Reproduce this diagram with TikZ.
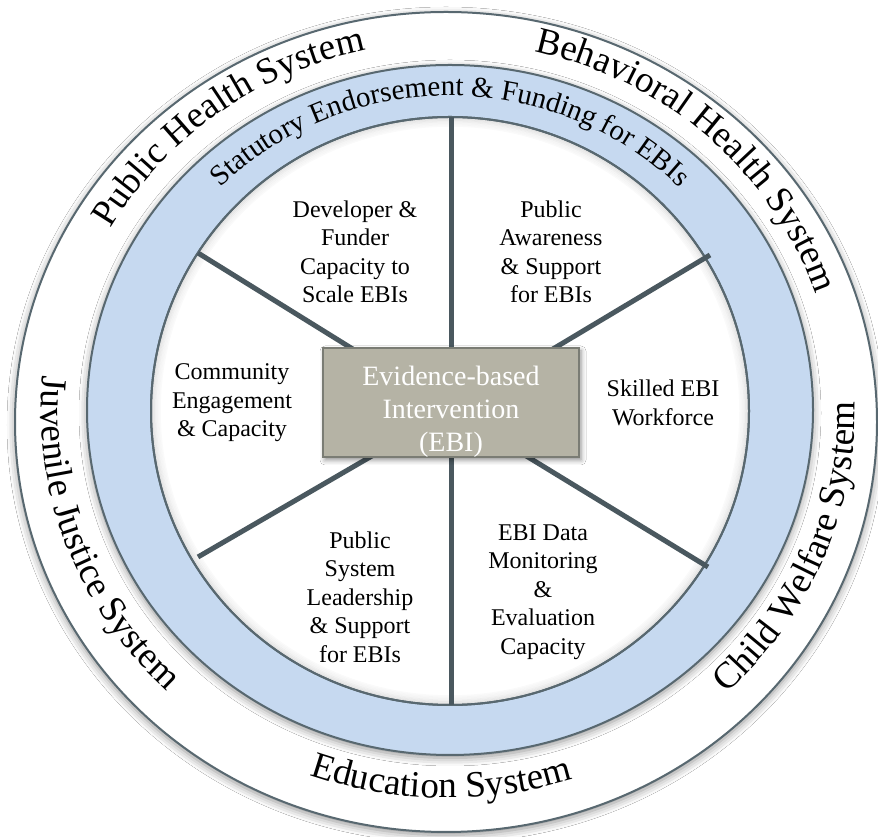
\documentclass[tikz,border=0pt]{standalone}
\usepackage{fontspec}
\setmainfont{Liberation Serif}
\usetikzlibrary{decorations.text,shadows.blur}
\definecolor{ringblue}{RGB}{198,217,240}
\definecolor{ringline}{RGB}{88,104,112}
\definecolor{spokecol}{RGB}{74,88,95}
\definecolor{boxfill}{RGB}{181,179,165}
\definecolor{boxline}{RGB}{122,124,116}
\newcommand\outerfont{\fontsize{37}{40}\selectfont}
\newcommand\ringfont{\fontsize{29}{32}\selectfont}
\begin{document}
\begin{tikzpicture}[x=1pt,y=1pt,
  ringedge/.style={draw=ringline,line width=2pt},
  spoke/.style={draw=spokecol,line width=5pt},
  ebibox/.style={draw=boxline,line width=1.5pt,fill=boxfill,minimum width=256pt,minimum height=109pt,
    blur shadow={shadow xshift=2pt,shadow yshift=-3pt,shadow blur radius=5pt,shadow opacity=45}},
  ebitext/.style={text=white,align=center,font=\fontsize{28}{33}\selectfont},
  seglabel/.style={align=center,font=\fontsize{24}{28.5}\selectfont,text=black},
  curvedtext/.style={decorate,decoration={text along path,text align=center,text={#1}}}
]
\path[fill=white] (0,0) rectangle (878,837);
\useasboundingbox (0,0) rectangle (878,837);

% outer ring
\path[ringedge,fill=white,blur shadow={shadow xshift=0pt,shadow yshift=-3pt,shadow blur radius=8pt,shadow opacity=45}]
  (446,415) ellipse [x radius=431pt,y radius=410pt];
% blue ring
\path[ringedge,fill=ringblue,blur shadow={shadow xshift=0pt,shadow yshift=-3pt,shadow blur radius=8pt,shadow opacity=45}]
  (450,427) ellipse [x radius=363pt,y radius=345pt];
% inner disk
\path[ringedge,fill=white] (450,426) ellipse [x radius=299pt,y radius=294pt];
\foreach \i/\o in {1/0.10,2/0.08,3/0.06,4/0.04,5/0.03,6/0.02}{
  \draw[black,opacity=\o,line width=1.5pt] (450,426) ellipse [x radius={299pt-1.5pt*\i},y radius={294pt-1.5pt*\i}];
}
\draw[ringedge] (450,426) ellipse [x radius=299pt,y radius=294pt];

% spokes
\coordinate (hub) at (451,427);
\coordinate (sT) at (451,720);
\coordinate (sUR) at (710,582);
\coordinate (sLR) at (708,270);
\coordinate (sB) at (451,132);
\coordinate (sLL) at (198,280);
\coordinate (sUL) at (198,584);
\foreach \e in {sT,sUR,sLR,sB,sLL,sUL}{
  \draw[spoke] (hub) -- (\e);
}

% centre box
\node[ebibox] (ebi) at (451,434.5) {};
\node[ebitext] (ebit) at (451,425) {Evidence-based\\Intervention\\(EBI)};

% segment labels
\node[seglabel] (dev) at (355,585) {Developer \&\\Funder\\Capacity to\\Scale EBIs};
\node[seglabel] (pub) at (551,585) {Public\\Awareness\\\& Support\\for EBIs};
\node[seglabel] (comm) at (232,434) {Community\\Engagement\\\& Capacity};
\node[seglabel] (skill) at (663,434) {Skilled EBI\\Workforce};
\node[seglabel] (psys) at (360,240) {Public\\System\\Leadership\\\& Support\\for EBIs};
\node[seglabel] (data) at (543,245) {EBI Data\\Monitoring\\\&\\Evaluation\\Capacity};

% ring text
\path[curvedtext={|\ringfont|Statutory Endorsement {\&} Funding for EBIs}]
  ([shift={(450,427)}]170:325pt and 314pt) arc[start angle=170,end angle=10,x radius=325pt,y radius=314pt];

% outer texts (top, clockwise)
\path[curvedtext={|\outerfont|Public Health System}]
  ([shift={(448,427)}]161.6:387pt and 368pt) arc[start angle=161.6,end angle=91.6,x radius=387pt,y radius=368pt];
\path[curvedtext={|\outerfont|Behavioral Health System}]
  ([shift={(448,427)}]82.6:387pt and 368pt) arc[start angle=82.6,end angle=12.6,x radius=387pt,y radius=368pt];
% outer texts (bottom, counter-clockwise)
\path[curvedtext={|\outerfont|Juvenile Justice System}]
  ([shift={(448,427)}]165:407pt and 388pt) arc[start angle=165,end angle=236,x radius=407pt,y radius=388pt];
\path[curvedtext={|\outerfont|Education System}]
  ([shift={(448,427)}]230:407pt and 388pt) arc[start angle=230,end angle=308,x radius=407pt,y radius=388pt];
\path[curvedtext={|\outerfont|Child Welfare System}]
  ([shift={(448,427)}]300:407pt and 388pt) arc[start angle=300,end angle=374.8,x radius=407pt,y radius=388pt];
\end{tikzpicture}
\end{document}
